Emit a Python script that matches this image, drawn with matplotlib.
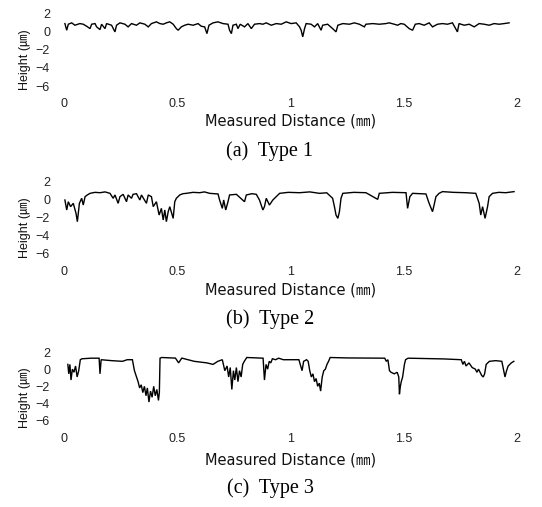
import matplotlib
matplotlib.use("Agg")
import matplotlib.pyplot as plt

# ---------------- data ----------------
# Type 1 profile: distance (mm), height (um)
x_a = [0.004, 0.012, 0.019, 0.034, 0.048, 0.070, 0.085, 0.100, 0.115, 0.122,
       0.137, 0.144, 0.159, 0.166, 0.181, 0.188, 0.210, 0.225, 0.232, 0.247,
       0.269, 0.283, 0.298, 0.320, 0.335, 0.357, 0.372, 0.386, 0.408, 0.423,
       0.438, 0.452, 0.467, 0.482, 0.496, 0.504, 0.518, 0.533, 0.548, 0.570,
       0.592, 0.606, 0.621, 0.631, 0.640, 0.658, 0.680, 0.702, 0.724, 0.731,
       0.739, 0.746, 0.761, 0.768, 0.778, 0.797, 0.812, 0.827, 0.841, 0.863,
       0.878, 0.893, 0.915, 0.937, 0.959, 0.981, 1.003, 1.025, 1.040, 1.047,
       1.054, 1.062, 1.069, 1.091, 1.106, 1.120, 1.135, 1.142, 1.164, 1.186,
       1.201, 1.209, 1.231, 1.260, 1.282, 1.304, 1.326, 1.333, 1.363, 1.392,
       1.421, 1.436, 1.458, 1.473, 1.487, 1.502, 1.524, 1.539, 1.551, 1.568,
       1.590, 1.612, 1.627, 1.649, 1.671, 1.693, 1.715, 1.737, 1.744, 1.767,
       1.789, 1.811, 1.833, 1.855, 1.877, 1.899, 1.921, 1.943, 1.965]
y_a = [0.84, 0.11, 0.77, 0.92, 0.66, 0.84, 0.77, 0.55, 0.29, 0.77,
       0.84, 0.48, 0.18, 0.77, 0.29, 0.84, 0.66, -0.07, 0.66, 0.92,
       0.77, 0.48, 0.84, 0.66, 0.92, 0.77, 0.48, 0.84, 1.03, 0.84,
       0.77, 0.92, 1.03, 0.77, 0.29, 0.11, 0.48, 0.66, 0.77, 0.66,
       0.84, 0.55, 0.48, -0.26, 0.66, 0.92, 1.03, 0.84, 0.77, 0.11,
       -0.26, 0.66, 0.77, 0.29, 0.77, 0.48, 0.84, 0.29, 0.77, 0.84,
       0.77, 0.92, 0.66, 0.84, 0.77, 1.03, 0.84, 0.92, 0.48, 0.11,
       -0.62, 0.29, 0.84, 0.77, 0.48, 0.84, 0.11, 0.66, 0.77, 0.29,
       -0.07, 0.66, 0.84, 0.77, 0.92, 0.77, 0.48, 0.77, 0.84, 0.77,
       0.84, 0.92, 0.77, 0.66, 0.84, 0.77, 0.29, 0.11, 0.77, 0.84,
       0.66, 0.92, 0.48, 0.77, 0.84, 0.77, 0.92, -0.07, 0.84, 0.66,
       0.77, 0.48, 0.84, 0.77, 0.66, 0.84, 0.77, 0.84, 0.92]

# Type 2 profile
x_b = [0.004, 0.012, 0.019, 0.029, 0.041, 0.053, 0.059, 0.068, 0.078, 0.085,
       0.093, 0.103, 0.115, 0.137, 0.159, 0.181, 0.203, 0.217, 0.225, 0.239,
       0.247, 0.261, 0.276, 0.283, 0.298, 0.305, 0.320, 0.335, 0.342, 0.364,
       0.372, 0.386, 0.394, 0.408, 0.420, 0.430, 0.438, 0.445, 0.452, 0.460,
       0.467, 0.482, 0.489, 0.496, 0.511, 0.525, 0.540, 0.570, 0.599, 0.620,
       0.643, 0.680, 0.687, 0.699, 0.705, 0.714, 0.724, 0.731, 0.761, 0.797,
       0.805, 0.830, 0.849, 0.863, 0.878, 0.885, 0.893, 0.907, 0.922, 0.937,
       0.952, 0.990, 1.040, 1.085, 1.128, 1.160, 1.186, 1.194, 1.201, 1.209,
       1.216, 1.223, 1.231, 1.280, 1.333, 1.385, 1.392, 1.450, 1.510, 1.517,
       1.527, 1.539, 1.598, 1.612, 1.627, 1.634, 1.642, 1.656, 1.671, 1.720,
       1.773, 1.818, 1.833, 1.840, 1.848, 1.859, 1.870, 1.877, 1.892, 1.920,
       1.950, 1.987]
y_b = [0.00, -1.11, -0.19, -0.74, -0.37, -1.48, -2.41, -0.37, 0.19, -0.56,
       0.37, 0.56, 0.74, 0.85, 0.81, 0.90, 0.74, 0.19, 0.56, -0.37,
       0.37, 0.63, -0.19, 0.56, 0.19, 0.63, 0.70, 0.00, 0.56, -0.37,
       0.56, 0.37, -0.74, -0.19, -1.67, -0.93, -2.22, -1.11, -2.41, -1.30,
       -0.74, -2.04, -0.19, 0.19, 0.56, 0.70, 0.74, 0.85, 0.81, 0.90,
       0.74, 0.67, 0.00, -0.93, 0.00, -1.11, -0.19, 0.56, 0.63, -0.19,
       0.56, 0.70, 0.63, 0.00, -1.11, -0.74, 0.19, -0.56, 0.00, 0.37,
       0.74, 0.85, 0.81, 0.90, 0.74, 0.80, 0.19, -0.74, -1.67, -2.04,
       -1.30, 0.19, 0.74, 0.85, 0.81, 0.07, 0.74, 0.85, 0.81, -0.93,
       0.37, 0.74, 0.67, -0.37, -1.30, -0.56, 0.37, 0.74, 0.93, 0.85,
       0.81, 0.74, -0.37, -1.67, -0.74, -2.04, -0.74, 0.37, 0.74, 0.85,
       0.81, 0.93]

# Type 3 profile
x_c = [0.017, 0.021, 0.026, 0.031, 0.037, 0.044, 0.051, 0.058, 0.065, 0.072,
       0.079, 0.120, 0.155, 0.159, 0.164, 0.210, 0.258, 0.279, 0.302, 0.311,
       0.320, 0.327, 0.334, 0.341, 0.348, 0.355, 0.362, 0.368, 0.375, 0.382,
       0.389, 0.396, 0.403, 0.410, 0.417, 0.421, 0.424, 0.431, 0.492, 0.506,
       0.520, 0.575, 0.630, 0.658, 0.679, 0.699, 0.710, 0.720, 0.727, 0.734,
       0.741, 0.748, 0.754, 0.761, 0.768, 0.775, 0.782, 0.789, 0.796, 0.807,
       0.879, 0.885, 0.892, 0.899, 0.906, 0.913, 0.920, 0.934, 0.948, 0.968,
       0.996, 1.037, 1.051, 1.058, 1.071, 1.078, 1.085, 1.092, 1.099, 1.106,
       1.113, 1.120, 1.127, 1.133, 1.140, 1.147, 1.154, 1.161, 1.168, 1.175,
       1.250, 1.330, 1.416, 1.423, 1.430, 1.437, 1.444, 1.458, 1.471, 1.478,
       1.481, 1.485, 1.489, 1.495, 1.499, 1.503, 1.508, 1.519, 1.600, 1.680,
       1.754, 1.761, 1.768, 1.775, 1.788, 1.802, 1.816, 1.823, 1.830, 1.844,
       1.851, 1.857, 1.864, 1.878, 1.906, 1.933, 1.947, 1.954, 1.961, 1.975,
       1.986]
y_c = [0.66, -0.45, 0.66, -1.18, 0.10, -0.27, 0.47, -0.82, -0.08, 1.21,
       1.32, 1.39, 1.39, -0.45, 1.21, 1.10, 1.02, 1.21, 1.21, -0.08,
       -0.82, -1.37, -2.11, -1.74, -2.66, -1.92, -3.03, -2.11, -3.77, -2.48,
       -3.21, -1.92, -3.03, -2.29, -3.58, -2.66, 1.39, 1.47, 1.40, 0.84,
       1.40, 1.02, 0.84, 0.66, 1.02, 1.21, -0.08, 0.47, -0.82, 0.29,
       -2.29, -0.08, -1.18, 0.29, -1.37, -0.08, -0.82, 0.66, 1.02, 1.47,
       1.39, -1.18, 0.66, 0.10, 1.02, 0.84, 1.32, 1.21, 1.39, 1.21,
       1.21, 1.21, -0.08, 1.02, 1.21, 1.02, -0.08, -0.82, -0.45, -1.37,
       -1.00, -1.92, -1.55, -2.48, -0.82, -0.08, 0.10, 0.66, 1.02, 1.47,
       1.42, 1.40, 1.39, 1.02, 1.21, -0.08, -0.27, -0.45, -0.27, -0.82,
       -2.85, -1.92, -1.37, -0.82, -0.08, 0.66, 1.21, 1.39, 1.35, 1.30,
       1.21, 0.66, 1.02, 0.47, 0.84, 0.29, 0.10, -0.27, 0.10, -0.64,
       -0.82, -0.45, 0.66, 1.02, 1.10, 1.02, -0.82, -0.08, 0.47, 0.84,
       1.02]

xticks = [0, 0.5, 1, 1.5, 2]
xtick_labels = ["0", "0.5", "1", "1.5", "2"]
yticks = [2, 0, -2, -4, -6]
captions = ["(a)  Type 1", "(b)  Type 2", "(c)  Type 3"]

# ---------------- layout ----------------
W, H = 542, 507
fig = plt.figure(figsize=(W / 100, H / 100), dpi=100)
fig.patch.set_facecolor("white")

X0, X2 = 64, 517          # pixel x of 0 mm and 2 mm
YLO, YHI = -7.2, 2.6
sans = ["Liberation Sans", "Noto Sans CJK JP"]
wide = ["DejaVu Sans", "Noto Sans CJK JP"]
serif = ["Liberation Serif", "DejaVu Serif"]

panels = [
    # (x, y, y-pixel of tick 2, y-pixel of tick -6, xlabel y, caption y, ylabel y)
    (x_a, y_a, 13, 86, 121, 151, 60),
    (x_b, y_b, 182, 254, 290, 319, 228),
    (x_c, y_c, 353, 421, 460, 488, 398),
]

for (xs, ys, y2, y6, yxl, ycap, yyl), cap in zip(panels, captions):
    s = (y6 - y2) / 8.0
    top = y2 - (YHI - 2) * s
    bot = y6 + (-6 - YLO) * s
    ax = fig.add_axes([X0 / W, 1 - bot / H, (X2 - X0) / W, (bot - top) / H])
    ax.plot(xs, ys, color="black", lw=1.0, solid_joinstyle="miter")
    ax.set_xlim(0, 2)
    ax.set_ylim(YLO, YHI)
    ax.set_xticks(xticks)
    ax.set_xticklabels(xtick_labels, fontfamily=sans)
    ax.set_yticks(yticks)
    ax.set_yticklabels([str(t).replace("-", "\u2212") for t in yticks], fontfamily=sans)
    ax.tick_params(axis="both", length=0, labelsize=9, colors="#222222")
    ax.tick_params(axis="y", pad=10)
    ax.tick_params(axis="x", pad=1)
    for sp in ax.spines.values():
        sp.set_visible(False)
    ax.patch.set_alpha(0)
    fig.text((X0 + X2) / 2 / W, 1 - yxl / H, "Measured Distance (\u339c)",
             ha="center", va="center", fontsize=10.5, family=wide, color="#111111")
    fig.text(25 / W, 1 - yyl / H, "Height (\u339b)", rotation=90,
             ha="center", va="center", fontsize=9, family=sans, color="#111111")
    fig.text(270 / W, 1 - ycap / H, cap, ha="center", va="center",
             fontsize=14.5, family=serif, color="black")

fig.savefig("out.png", dpi=100, facecolor="white")
